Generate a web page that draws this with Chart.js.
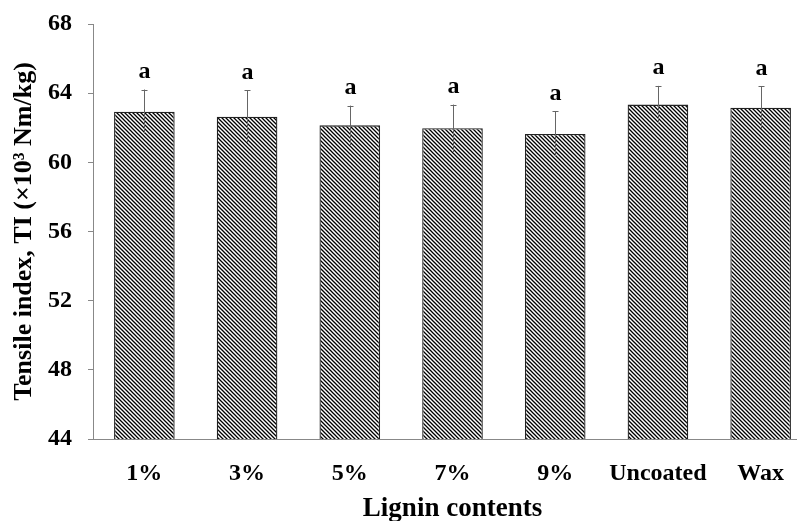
<!DOCTYPE html>
<html>
<head>
<meta charset="utf-8">
<script src="https://cdn.jsdelivr.net/npm/chart.js@4"></script>
<style>
  html, body { margin:0; padding:0; background:#fff; overflow:hidden; }
  #wrap { width:812px; height:521px; position:relative; }
</style>
</head>
<body>
<div id="wrap"><canvas id="tiChart"></canvas></div>
<script>
// data
const groups  = ['1%','3%','5%','7%','9%','Uncoated','Wax'];
const tiMean  = [62.93, 62.64, 62.14, 61.97, 61.64, 63.34, 63.16];
const tiErr   = [1.28, 1.52, 1.14, 1.37, 1.3, 1.08, 1.23];
const letters = ['a','a','a','a','a','a','a'];
const yTicks  = [44, 48, 52, 56, 60, 64, 68];

const serif = "'Liberation Serif', 'Times New Roman', serif";

// diagonal hatch fill
function hatch() {
  const c = document.createElement('canvas');
  c.width = 4; c.height = 4;
  const g = c.getContext('2d');
  g.fillStyle = '#fff';
  g.fillRect(0, 0, 4, 4);
  g.strokeStyle = '#000';
  g.lineWidth = 1.3;
  g.beginPath();
  g.moveTo(-1, -1); g.lineTo(5, 5);
  g.moveTo(-1, 3); g.lineTo(1, 5);
  g.moveTo(3, -1); g.lineTo(5, 1);
  g.stroke();
  return g.createPattern(c, 'repeat');
}

// error bars + significance letters
const errPlugin = {
  id: 'errBars',
  afterDatasetsDraw(chart) {
    const ctx = chart.ctx;
    const x = chart.scales.x, y = chart.scales.y;
    ctx.save();
    ctx.strokeStyle = '#666';
    ctx.lineWidth = 1;
    ctx.font = 'bold 24px ' + serif;
    ctx.fillStyle = '#000';
    ctx.textAlign = 'center';
    ctx.textBaseline = 'bottom';
    tiMean.forEach((v, i) => {
      const px = Math.round(x.getPixelForValue(i)) + 0.5;
      const hi = y.getPixelForValue(v + tiErr[i]);
      const lo = y.getPixelForValue(v - tiErr[i]);
      ctx.beginPath();
      ctx.moveTo(px, lo); ctx.lineTo(px, hi);
      ctx.moveTo(px - 3, Math.round(hi) + 0.5); ctx.lineTo(px + 3, Math.round(hi) + 0.5);
      ctx.stroke();
      ctx.fillText(letters[i], px, hi - 6);
    });
    ctx.restore();
  }
};

new Chart(document.getElementById('tiChart'), {
  type: 'bar',
  data: {
    labels: groups,
    datasets: [{
      data: tiMean,
      backgroundColor: hatch(),
      borderColor: '#222',
      borderWidth: 1.3,
      barPercentage: 0.59,
      categoryPercentage: 1
    }]
  },
  options: {
    responsive: true,
    maintainAspectRatio: false,
    animation: false,
    layout: { padding: { top: 24, right: 0, left: 0, bottom: 0 } },
    plugins: { legend: { display: false }, tooltip: { enabled: false } },
    scales: {
      x: {
        grid: { display: false, drawTicks: false },
        border: { display: true, color: '#888', width: 1 },
        ticks: {
          color: '#000', padding: 20, maxRotation: 0, minRotation: 0, autoSkip: false,
          font: { family: serif, size: 24, weight: 'bold' }
        },
        title: {
          display: true, text: 'Lignin contents', color: '#000',
          font: { family: serif, size: 27, weight: 'bold', lineHeight: 0.85 }, padding: { top: 0, bottom: 0 }
        },
        afterFit(s) { s.height = 82; }
      },
      y: {
        min: 44, max: 68,
        afterBuildTicks(s) { s.ticks = yTicks.map(v => ({ value: v })); },
        grid: { drawOnChartArea: false, drawTicks: true, tickLength: 5, color: '#888' },
        border: { display: true, color: '#888', width: 1 },
        ticks: { color: '#000', padding: 16, font: { family: serif, size: 24, weight: 'bold' } },
        title: {
          display: true, text: 'Tensile index, TI (×10³ Nm/kg)', color: '#000',
          font: { family: serif, size: 26, weight: 'bold' }, padding: { top: 9, bottom: 0 }
        },
        afterFit(s) { s.width = 93; s.paddingTop = 0; s.paddingBottom = 0; }
      }
    }
  },
  plugins: [errPlugin]
});
</script>
</body>
</html>
